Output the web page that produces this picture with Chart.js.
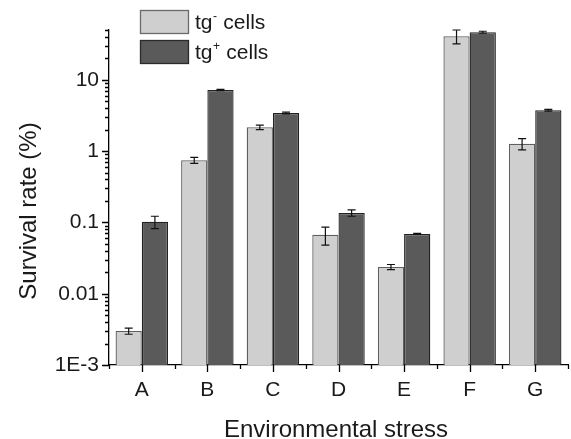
<!DOCTYPE html>
<html>
<head>
<meta charset="utf-8">
<script src="https://cdn.jsdelivr.net/npm/chart.js@4.4.1/dist/chart.umd.min.js"></script>
<style>
    body{margin:0;background:#fff;}
    #wrap{width:571px;height:439px;position:relative;}
</style>
</head>
<body>
<div id="wrap"><canvas id="survivalChart"></canvas></div>
<script>

// ==========================
// Data
// ==========================

const stressLabels=["A","B","C","D","E","F","G"];

const tgMinus=[0.003,0.745,2.16,0.067,0.0237,41,1.27];
const tgMinusErr=[0.0003,0.07,0.16,0.019,0.002,9,0.23];

const tgPlus=[0.102,7.2,3.43,0.136,0.069,46.5,3.75];
const tgPlusErr=[0.02,0.15,0.1,0.014,0.001,1.5,0.1];

const yMajorTicks=[0.001,0.01,0.1,1,10];
const yTickLabels=["1E-3","0.01","0.1","1","10"];
const yMin=0.001;
const yMax=50;

const FONT="'Liberation Sans', Arial, sans-serif";
const INK="#1a1a1a";

// ==========================
// Error bars + ticks + legend
// ==========================

const errors=[tgMinusErr,tgPlusErr];

const errorBars={
    id:"errorBars",
    afterDatasetsDraw(chart){
        const ctx=chart.ctx;
        const y=chart.scales.y;
        ctx.save();
        ctx.strokeStyle="#111";
        ctx.lineWidth=1.2;
        chart.data.datasets.forEach((ds,d)=>{
            const meta=chart.getDatasetMeta(d);
            meta.data.forEach((bar,i)=>{
                const v=ds.data[i];
                const e=errors[d][i];
                const top=y.getPixelForValue(v+e);
                const bot=y.getPixelForValue(Math.max(v-e,yMin));
                ctx.beginPath();
                ctx.moveTo(bar.x,top);ctx.lineTo(bar.x,bot);
                ctx.moveTo(bar.x-4,top);ctx.lineTo(bar.x+4,top);
                ctx.moveTo(bar.x-4,bot);ctx.lineTo(bar.x+4,bot);
                ctx.stroke();
            });
        });
        ctx.restore();
    }
};

const axisDecor={
    id:"axisDecor",
    afterDraw(chart){
        const ctx=chart.ctx;
        const a=chart.chartArea;
        const x=chart.scales.x;
        const y=chart.scales.y;
        ctx.save();
        ctx.strokeStyle="#000";
        ctx.lineWidth=1.3;
        ctx.beginPath();

        // y ticks, outward
        y.ticks.forEach(t=>{
            const py=Math.round(y.getPixelForValue(t.value))+0.5;
            const len=yMajorTicks.includes(t.value)?7:4;
            ctx.moveTo(a.left,py);ctx.lineTo(a.left-len,py);
        });

        // x ticks: centers long, boundaries short
        const step=(a.right-a.left)/stressLabels.length;
        stressLabels.forEach((l,i)=>{
            const px=Math.round(x.getPixelForValue(i))+0.5;
            ctx.moveTo(px,a.bottom);ctx.lineTo(px,a.bottom+7);
        });
        for(let i=0;i<=stressLabels.length;i++){
            const px=Math.round(a.left+i*step)+0.5;
            ctx.moveTo(px,a.bottom);ctx.lineTo(px,a.bottom+4);
        }
        ctx.stroke();

        // axis titles
        ctx.fillStyle=INK;
        ctx.font="24px "+FONT;
        ctx.textAlign="center";
        ctx.textBaseline="alphabetic";
        ctx.fillText("Environmental stress",336,437);
        ctx.translate(36,211);
        ctx.rotate(-Math.PI/2);
        ctx.fillText("Survival rate (%)",0,0);
        ctx.restore();

        // legend
        ctx.save();
        const items=[
            {fill:"#cfcfcf",stroke:"#6a6a6a",sup:"-",top:10},
            {fill:"#5a5a5a",stroke:"#2a2a2a",sup:"+",top:40}
        ];
        items.forEach(it=>{
            ctx.fillStyle=it.fill;
            ctx.strokeStyle=it.stroke;
            ctx.lineWidth=1.3;
            ctx.fillRect(140,it.top,49,24);
            ctx.strokeRect(140.5,it.top+0.5,48,23);
            ctx.fillStyle=INK;
            ctx.textAlign="left";
            ctx.textBaseline="alphabetic";
            const base=it.top+19;
            ctx.font="21px "+FONT;
            ctx.fillText("tg",195,base);
            let w=ctx.measureText("tg").width;
            ctx.font="12px "+FONT;
            ctx.fillText(it.sup,195+w+0.5,base-9);
            const sw=ctx.measureText(it.sup).width;
            ctx.font="21px "+FONT;
            ctx.fillText(" cells",195+w+sw+1,base);
        });
        ctx.restore();
    }
};

// ==========================
// Chart
// ==========================

document.addEventListener("DOMContentLoaded",()=>{

    const canvas=document.getElementById("survivalChart");

    new Chart(canvas,{

        type:"bar",

        data:{
            labels:stressLabels,
            datasets:[
                {
                    label:"tg- cells",
                    data:tgMinus,
                    backgroundColor:"#cfcfcf",
                    borderColor:"#5f5f5f",
                    borderWidth:1.3,
                    categoryPercentage:0.8,
                    barPercentage:1.0
                },
                {
                    label:"tg+ cells",
                    data:tgPlus,
                    backgroundColor:"#5a5a5a",
                    borderColor:"#222",
                    borderWidth:1.3,
                    categoryPercentage:0.8,
                    barPercentage:1.0
                }
            ]
        },

        options:{
            responsive:true,
            maintainAspectRatio:false,
            animation:false,
            layout:{padding:{top:30,right:3,left:0,bottom:0}},
            plugins:{
                legend:{display:false},
                tooltip:{enabled:false}
            },
            scales:{
                x:{
                    grid:{display:false,drawTicks:false},
                    border:{display:true,color:"#000",width:1.3},
                    ticks:{
                        color:INK,
                        font:{family:FONT,size:21},
                        padding:13
                    },
                    afterFit(s){s.height=74;}
                },
                y:{
                    type:"logarithmic",
                    min:yMin,
                    max:yMax,
                    grid:{display:false,drawTicks:false},
                    border:{display:true,color:"#000",width:1.3},
                    afterBuildTicks(s){
                        const t=[];
                        yMajorTicks.forEach(m=>{
                            for(let k=1;k<=9;k++){
                                const v=+(m*k).toPrecision(3);
                                if(v<=yMax) t.push({value:v});
                            }
                        });
                        s.ticks=t;
                    },
                    ticks:{
                        autoSkip:false,
                        color:INK,
                        font:{family:FONT,size:21},
                        padding:10,
                        callback(v){
                            const i=yMajorTicks.indexOf(v);
                            return i>=0?yTickLabels[i]:"";
                        }
                    },
                    afterFit(s){s.width=109;}
                }
            }
        },

        plugins:[errorBars,axisDecor]

    });

});

</script>
</body>
</html>
